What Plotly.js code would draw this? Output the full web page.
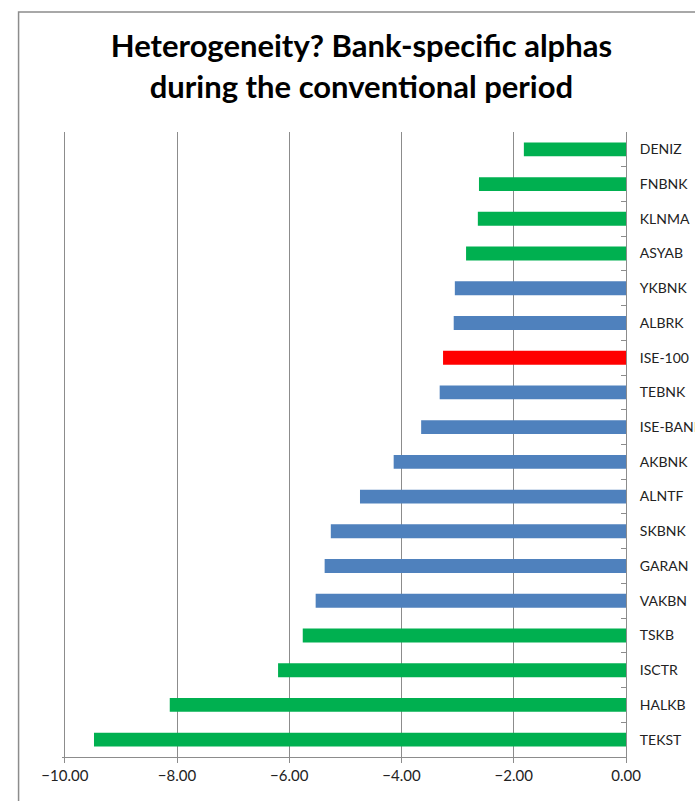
<!DOCTYPE html>
<html><head><meta charset="utf-8">
<script src="https://cdn.plot.ly/plotly-3.0.1.min.js"></script>
<style>html,body{margin:0;padding:0;background:#fff;}#chart{width:695px;height:801px;}</style>
</head><body><div id="chart"></div>
<script>
const banks = ["DENIZ","FNBNK","KLNMA","ASYAB","YKBNK","ALBRK","ISE-100","TEBNK","ISE-BANK","AKBNK","ALNTF","SKBNK","GARAN","VAKBN","TSKB","ISCTR","HALKB","TEKST"];
const alphas = [-1.82,-2.62,-2.64,-2.85,-3.05,-3.07,-3.26,-3.32,-3.65,-4.14,-4.74,-5.26,-5.37,-5.53,-5.76,-6.20,-8.13,-9.48];
const groups = ["g","g","g","g","b","b","r","b","b","b","b","b","b","b","g","g","g","g"];
const groupColors = {g:"#00B050", b:"#4F81BD", r:"#FF0000"};
const xTicks = [-10,-8,-6,-4,-2,0];

const data = [{
  type:"bar", orientation:"h", x:alphas, y:banks,
  marker:{color:groups.map(g=>groupColors[g])},
  width:0.4, hoverinfo:"x+y"
}];
const layout = {
  width:695, height:801,
  margin:{l:62, r:69, t:132, b:44},
  paper_bgcolor:"#fff", plot_bgcolor:"#fff",
  showlegend:false,
  title:{text:"Heterogeneity? Bank-specific alphas<br>during the conventional period",
    font:{family:"Lato, 'Open Sans', sans-serif", size:31, color:"#000", weight:"bold"},
    x:0.52, xanchor:"center", y:0.9285, yanchor:"middle"},
  xaxis:{range:[-10.05,0], tickvals:xTicks, tickformat:".2f", showgrid:true, gridcolor:"#8c8c8c", gridwidth:1,
    zeroline:false, showline:true, linecolor:"#8c8c8c", ticks:"outside", ticklen:5, tickcolor:"#8c8c8c",
    tickfont:{family:"Lato, sans-serif", size:15, color:"#222"}, fixedrange:true},
  yaxis:{type:"category", autorange:"reversed", side:"right", showline:true, linecolor:"#8c8c8c",
    ticks:"inside", ticklen:5, tickcolor:"#8c8c8c", tickson:"boundaries", showgrid:false, zeroline:false,
    ticklabelstandoff:10,
    tickfont:{family:"Lato, sans-serif", size:14, color:"#222"}, fixedrange:true},
  shapes:[{type:"rect", xref:"paper", yref:"paper", x0:-0.077, x1:1.2, y0:-0.1, y1:1.192,
    line:{color:"#8c8c8c", width:1.5}, fillcolor:"rgba(0,0,0,0)", layer:"below"}]
};
Plotly.newPlot("chart", data, layout, {displayModeBar:false, staticPlot:true});
</script></body></html>
